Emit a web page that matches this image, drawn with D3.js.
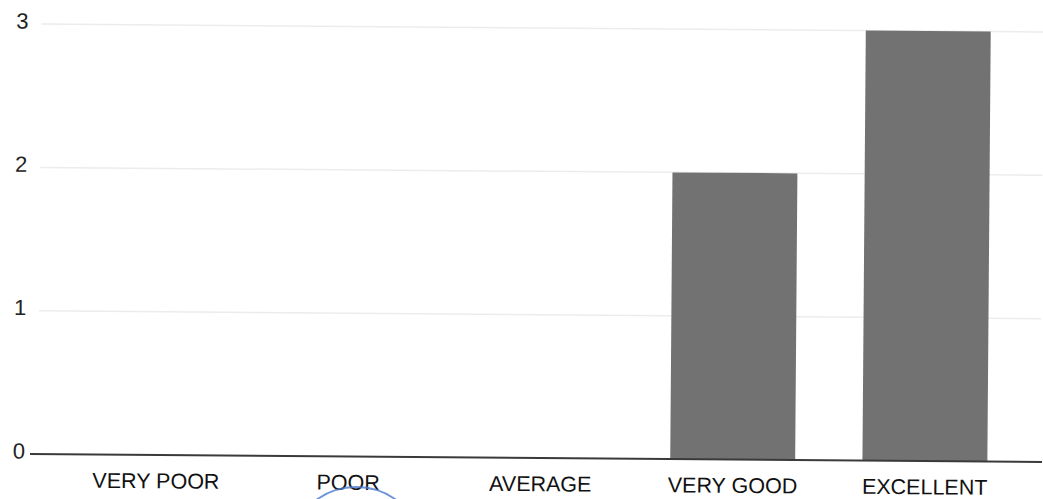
<!DOCTYPE html>
<html><head><meta charset="utf-8">
<script src="https://cdn.jsdelivr.net/npm/d3@7"></script>
<style>
html,body{margin:0;padding:0;background:#fff;overflow:hidden}
svg{display:block}
</style></head>
<body>
<svg id="c" width="1043" height="499"></svg>
<script>
const categories = ["VERY POOR","POOR","AVERAGE","VERY GOOD","EXCELLENT"];
const values = [0,0,0,2,3];
const yTicks = [0,1,2,3];

const svg = d3.select("#c");
const g = svg.append("g").attr("transform","rotate(0.45,535,458)");
const x = d3.scaleBand().domain(categories).range([60,1021]).paddingInner(0.35).paddingOuter(0.175);
const y = d3.scaleLinear().domain([0,3]).range([458,28]);

// gridlines
g.append("g").selectAll("line").data(yTicks.filter(d=>d>0)).join("line")
  .attr("x1",38).attr("x2",1040)
  .attr("y1",d=>y(d)).attr("y2",d=>y(d))
  .attr("stroke","#ececec").attr("stroke-width",1.5);

// bars
g.append("g").selectAll("rect").data(categories.map((c,i)=>({c,v:values[i]}))).join("rect")
  .attr("x",d=>x(d.c)).attr("width",x.bandwidth())
  .attr("y",d=>y(d.v)).attr("height",d=>y(0)-y(d.v))
  .attr("fill","#727272");

// baseline
g.append("line").attr("x1",30).attr("x2",1042).attr("y1",y(0)).attr("y2",y(0))
  .attr("stroke","#3a3a3a").attr("stroke-width",2);

// y axis labels
const yAxis = d3.axisLeft(y).tickValues(yTicks).tickSize(0).tickFormat(d3.format("d"));
const ya = g.append("g").attr("transform","translate(26,-3)").call(yAxis);
ya.select(".domain").remove();
ya.selectAll("text").attr("font-family","'Liberation Sans',Arial,sans-serif")
  .attr("font-size",22).attr("fill","#222").attr("text-anchor","middle").attr("dx",-4);

// x axis labels
const xAxis = d3.axisBottom(x).tickSize(0);
const xa = g.append("g").attr("transform",`translate(0,${y(0)+15})`).call(xAxis);
xa.select(".domain").remove();
xa.selectAll("text").attr("font-family","'Liberation Sans',Arial,sans-serif")
  .attr("font-size",21.5).attr("fill","#111");

// blue stamp arc below POOR
svg.append("circle").attr("cx",x("POOR")+x.bandwidth()/2+8).attr("cy",555).attr("r",68)
  .attr("fill","none").attr("stroke","#4a78d0").attr("stroke-width",2).attr("opacity",0.8);
</script>
</body></html>
